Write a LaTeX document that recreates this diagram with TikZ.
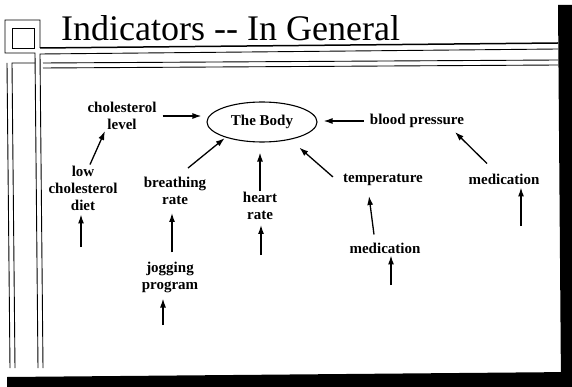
\documentclass[tikz,border=0pt]{standalone}
\usepackage{fontspec}
\setmainfont{Liberation Serif}
\usetikzlibrary{arrows.meta,shapes.geometric}
\begin{document}
\begin{tikzpicture}[x=1pt,y=-1pt,
  lbl/.style={font=\bfseries\fontsize{15}{17}\selectfont, align=center, inner sep=1pt},
  arr/.style={-{Latex[length=9pt,width=6pt]}, line width=1.3pt},
  frameline/.style={line width=0.9pt, line join=miter},
  heavyline/.style={line width=1.5pt}]
\useasboundingbox (0,0) rectangle (572,387);

% ---- frame ----
\draw[frameline] (12,28) rectangle (34,48);
\draw[frameline] (40,48) -- (40,20) -- (5,20) -- (5,53) -- (35,53) -- (38,368);
\draw[heavyline] (40,48) -- (558,43);
\draw[frameline] (558,49) -- (40,54) -- (43,368);
\draw[frameline] (7,63) -- (10,368);
\draw[frameline] (15,368) -- (12,63) -- (35,63);
\draw[frameline] (43,63) -- (558,60);
\draw[frameline] (43,68) -- (558,65);
\fill (7,377) -- (572,372) -- (572,387) -- (7,387) -- cycle;
\fill (558,5) -- (572,5) -- (572,387) -- (561,387) -- cycle;

% ---- title ----
\node[anchor=base west, font=\fontsize{36}{40}\selectfont, inner sep=0pt] (title) at (61,41) {Indicators -{}- In General};

% ---- nodes ----
\node[draw, ellipse, line width=1.1pt, minimum width=110pt, minimum height=40pt, lbl] (body) at (262,122) {The Body};
\node[lbl] (chol) at (122,116) {cholesterol\\level};
\node[lbl] (low) at (83,188) {low\\cholesterol\\diet};
\node[lbl] (breath) at (175,191) {breathing\\rate};
\node[lbl] (heart) at (260,206) {heart\\rate};
\node[lbl] (jog) at (170,277) {jogging\\program};
\node[lbl] (bp) at (417,121) {blood pressure};
\node[lbl] (temp) at (383,180) {temperature};
\node[lbl] (medA) at (385,248) {medication};
\node[lbl] (medB) at (504,179) {medication};

% ---- free tails ----
\coordinate (tLow) at (81,247);
\coordinate (tJog) at (163,325);
\coordinate (tHeart) at (261,255);
\coordinate (tMedA) at (391,285);
\coordinate (tMedB) at (521,226);

% ---- connectors ----
\draw[arr, shorten <=5pt, shorten >=5pt] (chol.east) -- (chol.east -| body.west);
\draw[arr] ([xshift=7pt]low.north) -- ([xshift=-17pt]chol.south);
\draw[arr, shorten >=1pt] ([shift={(13,-8)}]breath.north) -- (body.203);
\draw[arr, shorten >=10pt] (heart.north) -- (heart.north |- body.south);
\draw[arr, shorten >=12pt] ([shift={(-9,4)}]temp.north west) -- (body.328);
\draw[arr, shorten <=5pt, shorten >=6pt] (bp.west) -- (bp.west -| body.east);
\draw[arr] ([shift={(-17,-9)}]medB.north) -- ([shift={(38,3)}]bp.south);
\draw[arr] ([shift={(-11,-7)}]medA.north) -- ([shift={(-14,9)}]temp.south);
\draw[arr, shorten <=8pt, shorten >=7pt] ([xshift=2pt]jog.north) -- ([xshift=-3pt]breath.south);

\draw[arr, shorten >=3pt] (tLow) -- (tLow |- low.south);
\draw[arr, shorten >=5pt] (tJog) -- (tJog |- jog.south);
\draw[arr, shorten >=4pt] (tHeart) -- (tHeart |- heart.south);
\draw[arr, shorten >=1pt] (tMedA) -- (tMedA |- medA.south);
\draw[arr, shorten >=2pt] (tMedB) -- (tMedB |- medB.south);
\end{tikzpicture}
\end{document}
